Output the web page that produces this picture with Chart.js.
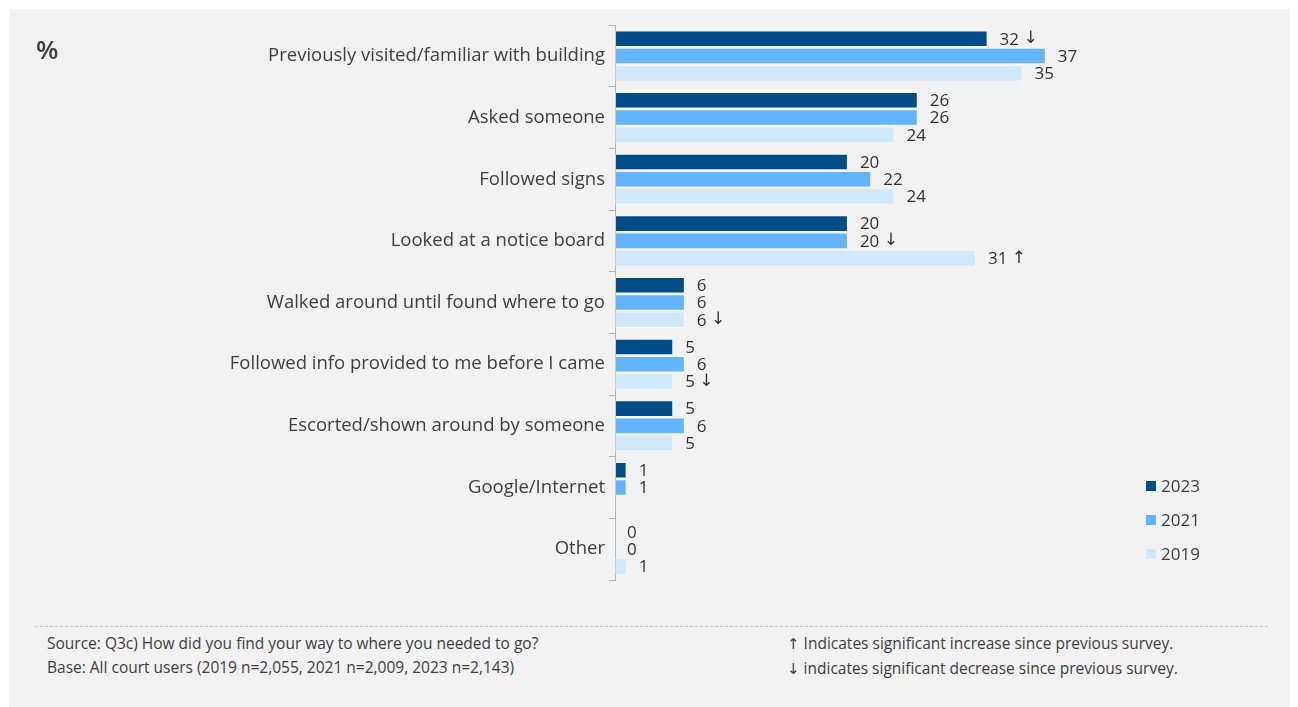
<!DOCTYPE html>
<html>
<head>
<meta charset="utf-8">
<script src="https://cdn.jsdelivr.net/npm/chart.js@4.4.1/dist/chart.umd.min.js"></script>
<style>
  html, body { margin: 0; padding: 0; background: #fff; }
  body { width: 1298px; height: 707px; position: relative; overflow: hidden;
         font-family: 'Open Sans', 'Noto Sans', sans-serif; color: #404040; }
  #panel { position: absolute; left: 9px; top: 9px; width: 1281px; height: 698px; background: #f2f2f2; }
  #wrap { position: absolute; left: 10px; top: 10px; width: 1280px; height: 600px; }
  #pct { position: absolute; left: 36px; top: 31px; font-size: 26px; font-weight: 600; color: #404040; }
  #legend { position: absolute; left: 1146px; top: 474px; font-size: 17px; }
  #legend div { height: 34px; display: flex; align-items: flex-start; }
  #legend span.sw { width: 10px; height: 10px; margin: 7px 5px 0 0; display: inline-block; }
  #rule { position: absolute; left: 35px; top: 626px; width: 1233px; border-top: 1px dashed #c8c8c8; }
  .note { position: absolute; font-size: 15.5px; line-height: 24px; color: #404040; white-space: nowrap; }
  .arr { font-family: 'DejaVu Sans', sans-serif; font-size: 15px; }
</style>
</head>
<body>
<div id="panel"></div>
<div id="wrap"><canvas id="chart"></canvas></div>
<div id="pct">%</div>
<div id="legend"></div>
<div id="rule"></div>
<div class="note" style="left:47px; top:631px;">
  Source: Q3c) How did you find your way to where you needed to go?<br>
  Base: All court users (2019 n=2,055, 2021 n=2,009, 2023 n=2,143)
</div>
<div class="note" style="left:787px; top:631px;">
  <span class="arr">↑</span> Indicates significant increase since previous survey.<br>
  <span class="arr">↓</span> indicates significant decrease since previous survey.
</div>
<script>
// ── Data ──────────────────────────────────────────────
const categories = [
  'Previously visited/familiar with building',
  'Asked someone',
  'Followed signs',
  'Looked at a notice board',
  'Walked around until found where to go',
  'Followed info provided to me before I came',
  'Escorted/shown around by someone',
  'Google/Internet',
  'Other',
];
const years = ['2023', '2021', '2019'];
const values2023 = [32, 26, 20, 20, 6, 5, 5, 1, 0];
const values2021 = [37, 26, 22, 20, 6, 6, 6, 1, 0];
const values2019 = [35, 24, 24, 31, 6, 5, 5, null, 1];
// significance arrows shown after the value
const sig2023 = ['↓', '', '', '', '', '', '', '', ''];
const sig2021 = ['', '', '', '↓', '', '', '', '', ''];
const sig2019 = ['', '', '', '↑', '↓', '↓', '', '', ''];

const COLORS = ['#004c87', '#63b4fd', '#d1e8fb'];
const TEXT = '#404040';
const FONT = "'Open Sans', 'Noto Sans', sans-serif";
const ARROW_FONT = "'DejaVu Sans', sans-serif";

Chart.defaults.font.family = FONT;
Chart.defaults.color = TEXT;

// ── Value labels at bar ends ──────────────────────────
const valueLabels = {
  id: 'valueLabels',
  afterDatasetsDraw(chart) {
    const ctx = chart.ctx;
    ctx.save();
    ctx.fillStyle = '#333';
    ctx.textAlign = 'left';
    ctx.textBaseline = 'middle';
    chart.data.datasets.forEach((ds, di) => {
      const meta = chart.getDatasetMeta(di);
      meta.data.forEach((bar, i) => {
        const v = ds.data[i];
        if (v === null || v === undefined) return;
        const x = bar.x + 12;
        const y = bar.y + 1;
        ctx.font = '17px ' + FONT;
        const txt = String(v);
        ctx.fillText(txt, x, y);
        const arrow = ds.sig[i];
        if (arrow) {
          const w = ctx.measureText(txt + ' ').width;
          ctx.font = '17px ' + ARROW_FONT;
          ctx.fillText(arrow, x + w, y - 1);
        }
      });
    });
    ctx.restore();
  },
};

const datasets = [values2023, values2021, values2019].map((vals, i) => ({
  label: years[i],
  data: vals,
  sig: [sig2023, sig2021, sig2019][i],
  backgroundColor: COLORS[i],
  borderColor: 'rgba(255,255,255,0.35)',
  borderWidth: 1,
  borderSkipped: false,
  categoryPercentage: 0.84,
  barPercentage: 0.96,
}));

new Chart(document.getElementById('chart'), {
  type: 'bar',
  data: { labels: categories, datasets },
  options: {
    indexAxis: 'y',
    responsive: true,
    maintainAspectRatio: false,
    animation: false,
    layout: { padding: { left: 0, right: 151, top: 15, bottom: 30 } },
    plugins: { legend: { display: false }, tooltip: { enabled: false } },
    scales: {
      x: { display: false, min: 0, max: 45 },
      y: {
        afterFit(scale) { scale.width = 605; },
        border: { color: '#b4b4b4', width: 1 },
        grid: { drawOnChartArea: false, offset: true, tickLength: 6, color: '#b4b4b4' },
        ticks: { padding: 4, font: { size: 18.5 }, color: TEXT },
      },
    },
  },
  plugins: [valueLabels],
});

// ── Legend ────────────────────────────────────────────
const legend = document.getElementById('legend');
years.forEach((y, i) => {
  const row = document.createElement('div');
  row.innerHTML = '<span class="sw" style="background:' + COLORS[i] + '"></span>' + y;
  legend.appendChild(row);
});
</script>
</body>
</html>
